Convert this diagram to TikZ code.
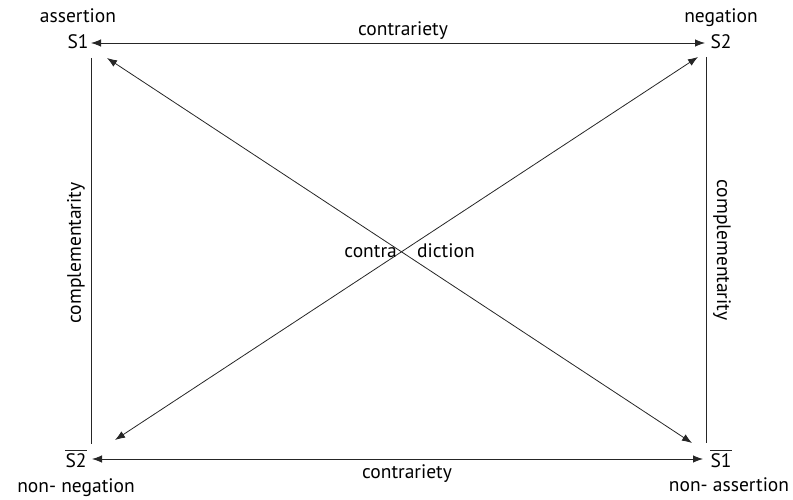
\documentclass[tikz,border=0pt]{standalone}
\usepackage{fontspec}
\setmainfont{PT Sans}
\usetikzlibrary{arrows.meta}
\begin{document}
\begin{tikzpicture}[x=1pt,y=-1pt,
  lbl/.style={font=\fontsize{19.5}{22}\selectfont, inner sep=0pt, anchor=base},
  ln/.style={line width=0.8pt, draw=black!85},
  darr/.style={ln, {Latex[length=10pt,width=7.5pt]}-{Latex[length=10pt,width=7.5pt]}}]
\useasboundingbox (0,0) rectangle (793,500);
% corner labels
\node[lbl] (as) at (78,23) {assertion};
\node[lbl] (ng) at (721,23) {negation};
\node[lbl] (nn) at (76,492) {non- negation};
\node[lbl] (na) at (729,491) {non- assertion};
\node[lbl] (s1) at (78,49) {S1};
\node[lbl] (s2) at (721,49) {S2};
\node[lbl] (s2b) at (76,467) {S2};
\node[lbl] (s1b) at (721,467) {S1};
\draw[ln] ([yshift=2.5pt]s2b.north west) -- ([yshift=2.5pt]s2b.north east);
\draw[ln] ([yshift=2.5pt]s1b.north west) -- ([yshift=2.5pt]s1b.north east);
% coordinates
\coordinate (tl) at (91,58);
\coordinate (bl) at (91,444);
\coordinate (tr) at (706,57);
\coordinate (br) at (706,443);
\coordinate (ht1) at (91,43);
\coordinate (ht2) at (705,43);
\coordinate (hb1) at (92,459);
\coordinate (hb2) at (703,459);
\coordinate (d1a) at (107,58);
\coordinate (d1b) at (692,443);
\coordinate (d2a) at (698,57);
\coordinate (d2b) at (115,440);
% horizontal arrows
\draw[darr] (ht1) -- (ht2);
\draw[darr] (hb1) -- (hb2);
% verticals
\draw[ln] (tl) -- (bl);
\draw[ln] (tr) -- (br);
% diagonals
\draw[darr] (d1a) -- (d1b);
\draw[darr] (d2a) -- (d2b);
% texts
\node[lbl] (c1) at (403,36) {contrariety};
\node[lbl] (c2) at (407,478) {contrariety};
\node[lbl, anchor=center, rotate=90] (cl) at (76,253) {complementarity};
\node[lbl, anchor=center, rotate=-90] (cr) at (722,250) {complementarity};
\node[lbl, anchor=base east] (ca) at (397,257) {contra};
\node[lbl, anchor=base west] (cb) at (417,257) {diction};
\end{tikzpicture}
\end{document}
